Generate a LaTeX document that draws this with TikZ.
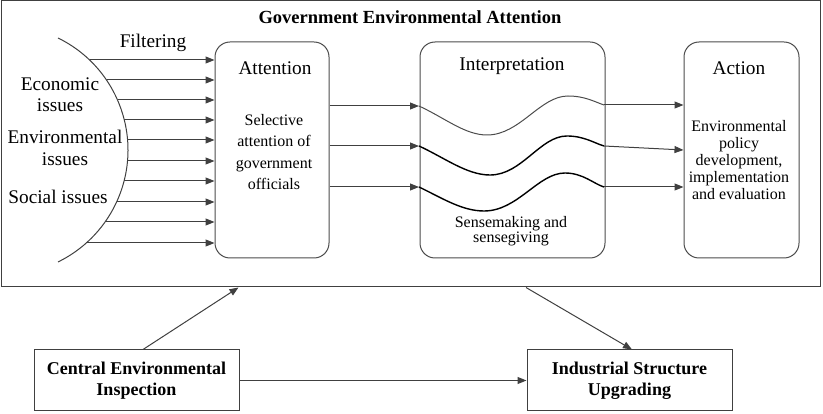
\documentclass[tikz,border=0pt]{standalone}
\usepackage{fontspec}
\setmainfont{Liberation Serif}
\usepackage{tikz}
\usetikzlibrary{positioning,arrows.meta}

\begin{document}
\begin{tikzpicture}[
    x=1pt, y=-1pt,
    line width=1pt,
    frame/.style={rectangle, draw=black!75, minimum width=819pt, minimum height=286pt},
    stage/.style={rectangle, draw=black!70, rounded corners=15pt, minimum height=216pt},
    box/.style={rectangle, draw=black!75, minimum width=205pt, minimum height=61pt, align=center, font=\fontsize{18}{21}\selectfont\bfseries},
    head/.style={align=center, font=\fontsize{19.3}{21.3}\selectfont},
    body/.style={align=center, font=\fontsize{16}{21.3}\selectfont},
    arrow/.style={-{Triangle[length=9pt,width=7pt]}, draw=black!75},
    wave/.style={black, line width=1.4pt}
]
\useasboundingbox (0,0) rectangle (823,414);

% Frame and title
\node[frame] (gea) at (410.5,144) {};
\node[font=\fontsize{18.5}{20}\selectfont\bfseries] (title) at (410,17) {Government Environmental Attention};

% Issues
\draw[black!75] (58,38) arc[start angle=-64, end angle=64, radius=124.6];
\node[head] (filt) at (153,43) {Filtering};
\node[head] (eco) at (60,95) {Economic\\issues};
\node[head] (env) at (65,148) {Environmental\\issues};
\node[head] (soc) at (58,197) {Social issues};

% Stages
\node[stage, minimum width=114pt] (att) at (272,150) {};
\node[stage, minimum width=185pt, right=90pt of att] (int) {};
\node[stage, minimum width=115pt, right=78pt of int] (act) {};

\node[head] (atth) at (275,68) {Attention};
\node[body] (attb) at (274,152) {Selective\\attention of\\government\\officials};
\node[head] (inth) at (512,66) {Interpretation};
\node[body, font=\fontsize{16}{15.5}\selectfont] (intb) at (511,231) {Sensemaking and\\sensegiving};
\node[head] (acth) at (739,68) {Action};
\node[body, font=\fontsize{16}{17}\selectfont] (actb) at (739,160) {Environmental\\policy\\development,\\implementation\\and evaluation};

% Filtering arrows
\coordinate (f1) at (89.6,60);
\coordinate (f2) at (106.5,80);
\coordinate (f3) at (117.5,100);
\coordinate (f4) at (124.3,120);
\coordinate (f5) at (127.6,140);
\coordinate (f6) at (127.5,161);
\coordinate (f7) at (124.1,181);
\coordinate (f8) at (116.6,202);
\coordinate (f9) at (105.1,222);
\coordinate (f10) at (86.3,243);
\draw[arrow] (f1) -- (f1 -| att.west);
\draw[arrow] (f2) -- (f2 -| att.west);
\draw[arrow] (f3) -- (f3 -| att.west);
\draw[arrow] (f4) -- (f4 -| att.west);
\draw[arrow] (f5) -- (f5 -| att.west);
\draw[arrow] (f6) -- (f6 -| att.west);
\draw[arrow] (f7) -- (f7 -| att.west);
\draw[arrow] (f8) -- (f8 -| att.west);
\draw[arrow] (f9) -- (f9 -| att.west);
\draw[arrow] (f10) -- (f10 -| att.west);

% Waves
\coordinate (w1) at (419,106);
\coordinate (w2) at (419,146);
\coordinate (w3) at (419,187);
\coordinate (v1) at (604,105);
\coordinate (v2) at (604,146);
\coordinate (v3) at (604,187);
\draw[arrow] (att.east |- w1) -- (w1);
\draw[arrow] (att.east |- w2) -- (w2);
\draw[arrow] (att.east |- w3) -- (w3);
\draw[black!70] (w1) .. controls (445,118) and (465,135) .. (487,135) .. controls (520,135) and (540,96) .. (568,96) .. controls (585,96) and (595,102) .. (v1);
\draw[wave] (w2) .. controls (445,158) and (467,175) .. (490,175) .. controls (522,175) and (540,136) .. (567,136) .. controls (584,136) and (594,143) .. (v2);
\draw[wave] (w3) .. controls (442,198) and (462,211) .. (484,211) .. controls (518,211) and (538,173) .. (565,173) .. controls (583,173) and (594,184) .. (v3);
\draw[arrow] (v1) -- (act.west |- v1);
\draw[arrow] (v2) -- (act.west);
\draw[arrow] (v3) -- (act.west |- v3);

% Bottom
\node[box] (cei) at (136.5,380.5) {Central Environmental\\Inspection};
\node[box, right=287pt of cei] (isu) {Industrial Structure\\Upgrading};
\draw[arrow] ([xshift=6.5pt]cei.north) -- ([xshift=-172pt]gea.south);
\draw[arrow] ([xshift=115.5pt]gea.south) -- ([xshift=2.5pt]isu.north);
\draw[arrow] (cei) -- (isu);

\end{tikzpicture}
\end{document}
